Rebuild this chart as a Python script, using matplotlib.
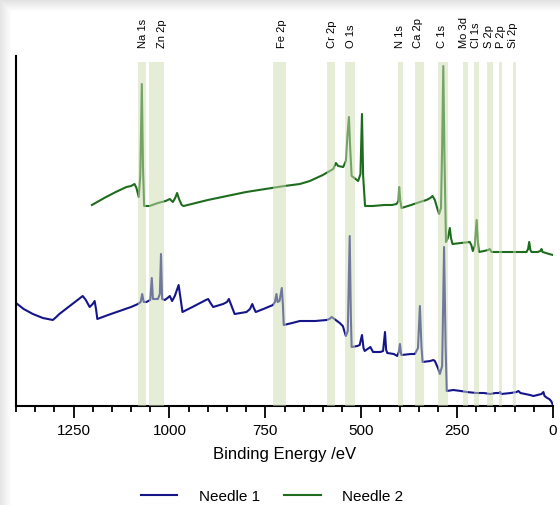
import matplotlib
matplotlib.use("Agg")
import matplotlib.pyplot as plt
from matplotlib.ticker import MultipleLocator
from matplotlib.lines import Line2D
import numpy as np

plt.rcParams['font.family'] = ['Liberation Sans', 'DejaVu Sans']

# ---------------- data ----------------
needle1_E = [1400, 1380, 1356, 1330, 1304, 1295, 1287, 1260, 1240, 1226, 1218, 1208, 1200, 1195, 1191, 1188,
             1160, 1130, 1100, 1082, 1075, 1071, 1067, 1060, 1050, 1046, 1043, 1030, 1025, 1022, 1019, 1012,
             1005, 999, 993, 986, 976, 972, 966, 940, 920, 905, 899, 893, 886, 860, 850, 845, 838, 830, 815,
             799, 790, 784, 780, 775, 755, 730, 725, 721, 718, 713, 707, 704, 702, 680, 660, 620, 590, 583,
             577, 570, 556, 548, 540, 535, 530, 527, 525, 510, 504, 498, 494, 491, 476, 472, 469, 450, 443,
             438, 435, 432, 415, 406, 402, 399, 396, 395, 370, 360, 352, 347, 343, 340, 320, 312, 308, 300,
             295, 289, 284, 280, 277, 260, 240, 225, 200, 180, 164, 150, 140, 138, 135, 110, 95, 90, 85, 60,
             51, 40, 30, 25, 22, 15, 10, 5, 0]
needle1_I = [103, 97, 92, 88, 86, 89, 92, 100, 106, 110, 106, 99, 102, 105, 96, 87,
             91, 95, 99, 102, 104, 112, 104, 104, 106, 128, 107, 107, 112, 152, 107, 106,
             108, 110, 105, 110, 121, 110, 94, 99, 103, 106, 107, 103, 99, 102, 104, 107, 100, 92, 93,
             94, 97, 102, 98, 94, 97, 101, 104, 112, 104, 105, 118, 100, 81, 83, 85, 85, 86, 87,
             89, 87, 83, 80, 70, 75, 170, 90, 59, 60, 61, 71, 58, 55, 59, 56, 54, 54, 55,
             74, 56, 53, 52, 50, 54, 62, 52, 51, 52, 52, 58, 100, 60, 44, 45, 46, 45, 38,
             32, 40, 159, 60, 15, 16, 15, 14, 13, 13, 12, 13, 13, 14, 12, 13, 14, 15, 13, 11,
             10, 11, 12, 14, 10, 8, 7, 5, 1]

needle2_E = [1202, 1170, 1140, 1112, 1100, 1091, 1086, 1080, 1076, 1072, 1069, 1066, 1052, 1030, 1010, 999,
             991, 985, 980, 975, 968, 963, 900, 800, 700, 660, 634, 600, 573, 566, 560, 547, 540, 536,
             532, 529, 525, 518, 508, 502, 498, 495, 490, 470, 440, 420, 408, 403, 401, 398, 395, 370,
             347, 330, 320, 314, 308, 302, 297, 292, 289, 286, 283, 279, 274, 269, 266, 262, 240, 217,
             213, 209, 204, 199, 196, 193, 180, 169, 165, 160, 138, 100, 69, 65, 62, 59, 56, 40, 33,
             30, 27, 10, 0]
needle2_I = [201, 208, 214, 219, 220, 222, 218, 209, 230, 322, 240, 200, 200, 203, 205, 207,
             204, 208, 213, 207, 201, 200, 206, 214, 220, 222, 225, 231, 237, 243, 240, 239, 245, 270,
             289, 260, 230, 228, 225, 232, 292, 230, 200, 200, 201, 201, 202, 205, 219, 205, 198, 201,
             204, 206, 208, 210, 206, 198, 192, 198, 260, 340, 250, 164, 168, 178, 168, 162, 163, 164,
             161, 155, 160, 186, 165, 154, 155, 156, 157, 154, 154, 154, 154, 157, 164, 156, 154, 154, 155,
             157, 154, 152, 151]

element_labels = ["Na 1s", "Zn 2p", "Fe 2p", "Cr 2p", "O 1s", "N 1s", "Ca 2p", "C 1s",
                  "Mo 3d", "Cl 1s", "S 2p", "P 2p", "Si 2p"]
label_E = [1070, 1020, 707, 577, 527, 399, 352, 290, 232, 201, 167, 136, 104]
band_hi = [1083, 1052, 731, 590, 543, 404, 360, 300, 235, 206, 172, 141, 104]
band_lo = [1062, 1013, 697, 569, 517, 391, 337, 274, 222, 193, 157, 133, 97]

series_names = ["Needle 1", "Needle 2"]
series_colors = ["#15158a", "#1e6c1e"]

# ---------------- figure ----------------
W, H = 560, 506
fig = plt.figure(figsize=(W / 100, H / 100), dpi=100)

# subtle window shadow along the top and left edges
bg = fig.add_axes([0, 0, 1, 1], zorder=-10)
yy, xx = np.mgrid[0:H, 0:W]
shade = np.clip(1 - np.maximum(np.clip(1 - yy / 12.0, 0, 1) * 0.12,
                               np.clip(1 - xx / 11.0, 0, 1) * 0.10), 0, 1)
bg.imshow(np.dstack([shade] * 3), extent=[0, 1, 0, 1], aspect="auto", interpolation="bilinear")
bg.axis("off")

ax = fig.add_axes([16 / W, (H - 407) / H, (553 - 16) / W, 350 / H])
ax.patch.set_alpha(0)

ax.plot(needle1_E, needle1_I, color=series_colors[0], lw=1.5, zorder=2)
ax.plot(needle2_E, needle2_I, color=series_colors[1], lw=1.5, zorder=2)

for lo, hi in zip(band_lo, band_hi):
    ax.axvspan(lo, hi, ymin=0, ymax=0.983, color="#cddcb1", alpha=0.5, lw=0, zorder=3)

for lab, e in zip(element_labels, label_E):
    ax.text(e, 1.026, lab, transform=ax.get_xaxis_transform(), rotation=90,
            ha="center", va="bottom", fontsize=8, clip_on=False)

ax.set_xlim(1400, 0)
ax.set_ylim(0, 350)
ax.xaxis.set_major_locator(MultipleLocator(250))
ax.xaxis.set_minor_locator(MultipleLocator(50))
ax.tick_params(axis="x", which="major", length=8.5, width=1.3, labelsize=11, direction="out", pad=4)
ax.tick_params(axis="x", which="minor", length=4, width=1.3, direction="out")
ax.set_yticks([])
for s in ["top", "right"]:
    ax.spines[s].set_visible(False)
for s in ["left", "bottom"]:
    ax.spines[s].set_linewidth(1.5)
ax.set_xlabel("Binding Energy /eV", fontsize=12, labelpad=6)

handles = [Line2D([], [], color=c, lw=1.5) for c in series_colors]
fig.legend(handles, series_names, loc="center", bbox_to_anchor=(272 / W, 1 - 497 / H),
           ncol=2, frameon=False, fontsize=11, handlelength=2.4, handletextpad=1.4,
           columnspacing=1.6)

fig.savefig("out.png", dpi=100)
